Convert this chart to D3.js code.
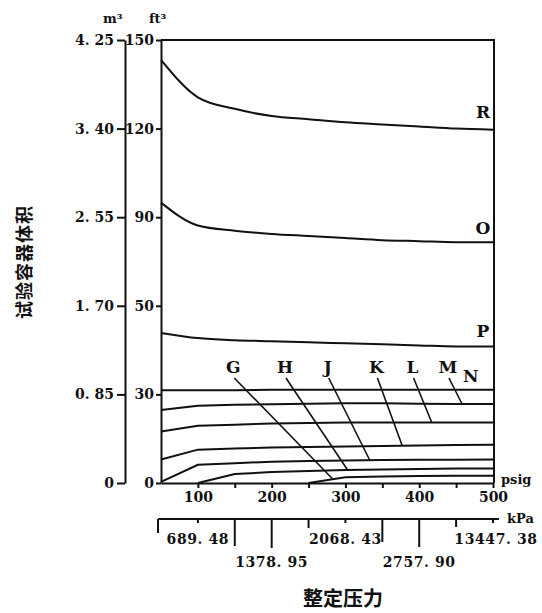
<!DOCTYPE html>
<html lang="zh">
<head>
<meta charset="utf-8">
<title>试验容器体积 - 整定压力</title>
<script src="https://cdn.jsdelivr.net/npm/d3@7"></script>
<style type="text/css">

body {
	margin: 0;
	background: #fff;
}

#vis text {
	font-family: "DejaVu Serif", serif;
	font-weight: bold;
	fill: #111;
}

#vis .cjk {
	font-family: "Noto Sans CJK SC", sans-serif;
	font-weight: bold;
}

</style>
</head>

<body>

<div id="vis"></div>

<script>

/* Data */
/* ==== */

var psig = [50, 100, 150, 200, 250, 300, 350, 400, 450, 500];

// vessel volume, m3, read at each psig value (null = no curve there)
var volR = [4.06, 3.70, 3.59, 3.52, 3.49, 3.46, 3.44, 3.42, 3.40, 3.39];
var volO = [2.69, 2.47, 2.42, 2.39, 2.37, 2.35, 2.33, 2.32, 2.31, 2.31];
var volP = [1.44, 1.39, 1.37, 1.36, 1.35, 1.34, 1.33, 1.32, 1.31, 1.31];
var volN = [0.89, 0.89, 0.89, 0.895, 0.895, 0.895, 0.895, 0.895, 0.895, 0.895];
var volM = [0.70, 0.74, 0.75, 0.755, 0.76, 0.765, 0.765, 0.76, 0.758, 0.757];
var volL = [0.495, 0.55, 0.56, 0.57, 0.575, 0.58, 0.58, 0.58, 0.58, 0.58];
var volK = [0.225, 0.32, 0.33, 0.34, 0.345, 0.35, 0.355, 0.36, 0.365, 0.367];
var volJ = [0.01, 0.175, 0.19, 0.205, 0.21, 0.215, 0.22, 0.222, 0.224, 0.225];
var volH = [null, 0, 0.086, 0.105, 0.115, 0.125, 0.13, 0.135, 0.138, 0.14];
var volG = [null, null, null, null, 0, 0.055, 0.063, 0.067, 0.07, 0.07];

var m3Ticks  = [0, 0.85, 1.70, 2.55, 3.40, 4.25];
var m3Labels = ['0', '0. 85', '1. 70', '2. 55', '3. 40', '4. 25'];
var ft3Labels = ['0', '30', '50', '90', '120', '150'];

var psigTicks = [100, 150, 200, 250, 300, 350, 400, 450, 500];
var kpaAt     = [100, 200, 300, 400, 500];
var kpaLabels = ['689. 48', '1378. 95', '2068. 43', '2757. 90', '13447. 38'];


/* Globals and SVG */
/* =============== */

var width = 542, height = 613;

var svg = d3.select('#vis')
	.append('svg')
		.attr('width', width)
		.attr('height', height);

svg.append('rect')
	.attr('width', width)
	.attr('height', height)
	.attr('fill', '#fff');

var x = d3.scaleLinear().domain([50, 500]).range([161, 493]);
var y = d3.scaleLinear().domain([0, 4.25]).range([483, 40]);

var ink = '#111';


/* Axes */
/* ==== */

function drawAxes() {

	// m3 axis, free standing on the left
	var m3Axis = d3.axisLeft(y)
		.tickValues(m3Ticks)
		.tickFormat(function(d, i) { return m3Labels[i]; })
		.tickSize(8).tickSizeOuter(0).tickPadding(3);

	var gm = svg.append('g')
		.attr('transform', 'translate(125,0)')
		.call(m3Axis);

	// ft3 axis on the frame
	var ftAxis = d3.axisLeft(y)
		.tickValues(m3Ticks)
		.tickFormat(function(d, i) { return ft3Labels[i]; })
		.tickSize(5).tickSizeOuter(0).tickPadding(2);

	var gf = svg.append('g')
		.attr('transform', 'translate(' + x(50) + ',0)')
		.call(ftAxis);

	// psig axis along the bottom of the frame
	var psigAxis = d3.axisBottom(x)
		.tickValues(psigTicks)
		.tickFormat(function(d) { return d % 100 === 0 ? d : ''; })
		.tickSize(5).tickSizeOuter(0).tickPadding(4);

	var gp = svg.append('g')
		.attr('transform', 'translate(0,' + y(0) + ')')
		.call(psigAxis);

	[gm, gf, gp].forEach(function(g) {
		g.selectAll('path, line').attr('stroke', ink).attr('stroke-width', 2);
		g.selectAll('text')
			.attr('font-size', 14)
			.attr('font-family', '"DejaVu Serif", serif')
			.attr('font-weight', 'bold');
	});

	// unit captions
	svg.append('text').attr('x', 103).attr('y', 23).attr('font-size', 13).text('m³');
	svg.append('text').attr('x', 149).attr('y', 23).attr('font-size', 13).text('ft³');
	svg.append('text').attr('x', 501).attr('y', 484).attr('font-size', 13).text('psig');

	// kPa axis below
	var ky = 519;
	svg.append('line')
		.attr('x1', x(46)).attr('x2', x(508))
		.attr('y1', ky).attr('y2', ky)
		.attr('stroke', ink).attr('stroke-width', 2);

	var tickLen = { 50: 14, 100: 4, 150: 27, 200: 29, 250: 9, 300: 4, 350: 23, 400: 28, 450: 8, 500: 4 };
	Object.keys(tickLen).forEach(function(k) {
		var v = +k, xx = x(v) + (v === 50 ? -3 : 0);
		svg.append('line')
			.attr('x1', xx).attr('x2', xx)
			.attr('y1', ky).attr('y2', ky + tickLen[k])
			.attr('stroke', ink).attr('stroke-width', 2);
	});

	svg.append('g').selectAll('text')
		.data(kpaAt)
		.join('text')
			.attr('x', function(d, i) { return x(d) + (i === 4 ? 3 : 0); })
			.attr('y', function(d, i) { return i % 2 === 0 ? 544 : 567; })
			.attr('text-anchor', 'middle')
			.attr('font-size', 14)
			.attr('letter-spacing', 0.6)
			.text(function(d, i) { return kpaLabels[i]; });

	svg.append('text')
		.attr('x', 507).attr('y', 523)
		.attr('font-size', 13)
		.text('kPa');

} // drawAxes()


/* Curves */
/* ====== */

function drawCurves() {

	// frame
	svg.append('path')
		.attr('d', 'M' + x(50) + ',' + y(4.25) + 'H' + (x(500) + 1) + 'V' + y(0))
		.attr('fill', 'none')
		.attr('stroke', ink).attr('stroke-width', 2);

	var smooth = [volR, volO, volP];
	var straight = [volN, volM, volL, volK, volJ, volH, volG];

	function lineFor(curve) {
		return d3.line()
			.defined(function(d) { return d != null; })
			.x(function(d, i) { return x(psig[i]); })
			.y(function(d) { return y(d); })
			.curve(curve);
	}

	svg.append('g').selectAll('path.smooth')
		.data(smooth)
		.join('path')
			.attr('d', lineFor(d3.curveMonotoneX))
			.attr('fill', 'none')
			.attr('stroke', ink).attr('stroke-width', 2);

	svg.append('g').selectAll('path.straight')
		.data(straight)
		.join('path')
			.attr('d', lineFor(d3.curveLinear))
			.attr('fill', 'none')
			.attr('stroke', ink).attr('stroke-width', 2);

} // drawCurves()


/* Labels */
/* ====== */

function volAt(vals, p) {
	var i = d3.bisectLeft(psig, p);
	if (i <= 0) return vals[0];
	var a = vals[i - 1] == null ? 0 : vals[i - 1], b = vals[i];
	var t = (p - psig[i - 1]) / (psig[i] - psig[i - 1]);
	return a + (b - a) * t;
}

function drawLabels() {

	// R, O, P sit above the right end of their curves
	[['R', volR, 12], ['O', volO, 8], ['P', volP, 9]].forEach(function(c) {
		svg.append('text')
			.attr('x', x(500) - 10).attr('y', y(c[1][9]) - c[2])
			.attr('text-anchor', 'middle')
			.attr('font-size', 17)
			.text(c[0]);
	});

	// lettered call-outs with leader lines
	var callouts = [
		{ name: 'G', vals: volG, at: 148, to: 283 },
		{ name: 'H', vals: volH, at: 218, to: 303 },
		{ name: 'J', vals: volJ, at: 276, to: 333 },
		{ name: 'K', vals: volK, at: 342, to: 377 },
		{ name: 'L', vals: volL, at: 391, to: 417 },
		{ name: 'M', vals: volM, at: 439, to: 458 }
	];

	var base = 373;

	callouts.forEach(function(c) {
		svg.append('text')
			.attr('x', x(c.at)).attr('y', base)
			.attr('text-anchor', 'middle')
			.attr('font-size', 17)
			.text(c.name);
		svg.append('line')
			.attr('x1', x(c.at) + 1).attr('y1', base + 5)
			.attr('x2', x(c.to)).attr('y2', y(volAt(c.vals, c.to)))
			.attr('stroke', ink).attr('stroke-width', 1.6);
	});

	svg.append('text')
		.attr('x', x(470)).attr('y', 382)
		.attr('text-anchor', 'middle')
		.attr('font-size', 17)
		.text('N');

	// titles
	svg.append('text')
		.attr('class', 'cjk')
		.attr('transform', 'translate(31,262) rotate(-90)')
		.attr('text-anchor', 'middle')
		.attr('font-size', 18)
		.attr('letter-spacing', 1)
		.text('试验容器体积');

	svg.append('text')
		.attr('class', 'cjk')
		.attr('x', 343).attr('y', 606)
		.attr('text-anchor', 'middle')
		.attr('font-size', 20)
		.text('整定压力');

} // drawLabels()


drawAxes();
drawCurves();
drawLabels();

</script>

</body>
</html>
